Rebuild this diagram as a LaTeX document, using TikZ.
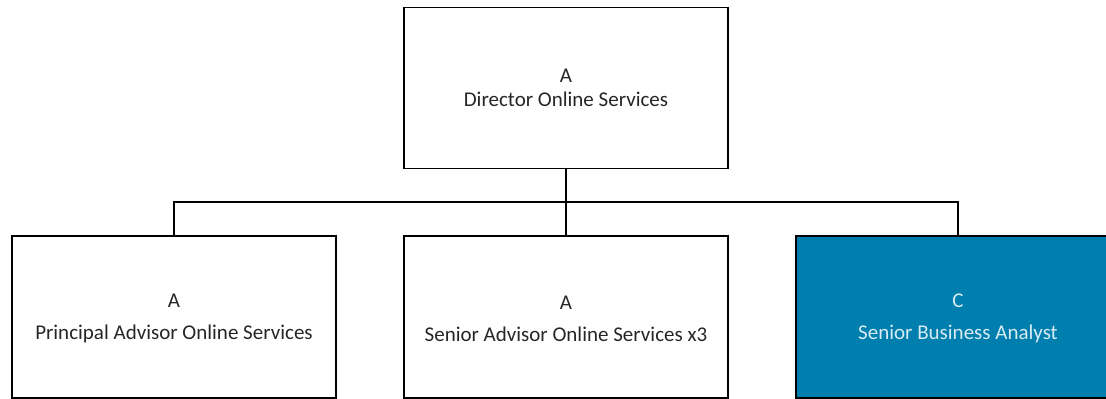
\documentclass[tikz,border=0pt]{standalone}
\usepackage{fontspec}
\setmainfont{Carlito}
\definecolor{boxblue}{RGB}{0,127,175}
\definecolor{lighttext}{RGB}{215,235,243}
\definecolor{darktext}{RGB}{38,38,38}
\tikzset{
  orgbox/.style={draw=black, line width=1.6pt, minimum width=324pt, align=center, inner sep=0pt, text=darktext, font=\fontsize{21}{24}\selectfont},
  topbox/.style={orgbox, minimum height=161pt},
  lowbox/.style={orgbox, minimum height=162pt},
  hibox/.style={lowbox, fill=boxblue, text=lighttext},
  link/.style={draw=black, line width=1.6pt}
}
\begin{document}
\begin{tikzpicture}[x=1pt, y=-1pt]
\useasboundingbox (0,0) rectangle (1106,399);
\clip (0,0) rectangle (1106,399);
\node[topbox] (dir) at (566,88) {A\\Director Online Services};
\node[lowbox] (pa) at (174,317) {};
\node[lowbox] (sa) at (566,317) {};
\node[hibox] (ba) at (958,317) {};
\node[orgbox, draw=none, minimum height=0pt] (patext) at (174,318.5) {A\\[8pt]Principal Advisor Online Services};
\node[orgbox, draw=none, minimum height=0pt] (satext) at (566,318.5) {A\\[8pt]Senior Advisor Online Services x3};
\node[orgbox, draw=none, minimum height=0pt, text=lighttext] (batext) at (958,318.5) {C\\[8pt]Senior Business Analyst};
\coordinate (bus) at (566,202);
\draw[link] (dir.south) -- (sa.north);
\draw[link] (pa.north) |- (bus) -| (ba.north);
\end{tikzpicture}
\end{document}
